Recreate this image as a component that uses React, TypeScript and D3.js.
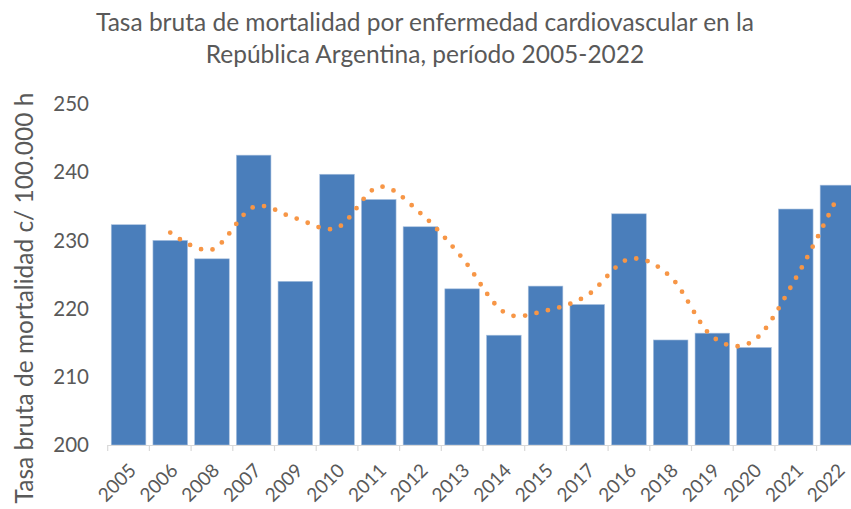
import React from "react";
import * as d3 from "d3";

const categories = ["2005","2006","2008","2007","2009","2010","2011","2012","2013","2014","2015","2017","2016","2018","2019","2020","2021","2022"];
const values = [232.3,230.0,227.3,242.5,224.0,239.7,236.0,232.0,222.9,216.1,223.3,220.6,233.9,215.4,216.4,214.3,234.6,238.1];
const yTicks = [200,210,220,230,240,250];
const titleLines = ["Tasa bruta de mortalidad por enfermedad cardiovascular en la","República Argentina, período 2005-2022"];
const yAxisTitle = "Tasa bruta de mortalidad c/ 100.000 h";

const W = 851, H = 509;
const FONT = "Lato, 'Open Sans', sans-serif";
const TXT = "#595959";

export default function App() {
  const x = d3.scaleBand<string>().domain(categories).range([107.7, 107.7 + 18 * 41.7]).paddingInner(0.17).paddingOuter(0.085);
  const y = d3.scaleLinear().domain([200, 250]).range([445, 104]);
  const ma = values.map((v, i) => (i > 0 ? (v + values[i - 1]) / 2 : null));
  const pts = ma.map((v, i) => (v == null ? null : [x(categories[i])! + x.bandwidth() / 2, y(v)] as [number, number])).filter(Boolean) as [number, number][];
  const line = d3.line().curve(d3.curveCatmullRom.alpha(0))(pts) || "";
  const step = x.step();
  const x0 = x.range()[0];
  return (
    <svg width={W} height={H} style={{ position: "absolute", left: 0, top: 0, background: "#fff" }}>
      <g fontFamily={FONT} fill={TXT}>
        {titleLines.map((t, i) => (
          <text key={i} x={425} y={31 + i * 32} textAnchor="middle" fontSize={24.5}>{t}</text>
        ))}
        <text transform={`translate(33,298) rotate(-90)`} textAnchor="middle" fontSize={24.5}>{yAxisTitle}</text>
        {yTicks.map((t) => (
          <text key={t} x={89} y={y(t)} dy="0.35em" textAnchor="end" fontSize={20.5}>{t}</text>
        ))}
      </g>
      {categories.map((c, i) => (
        <rect key={c} x={x(c)} y={y(values[i])} width={x.bandwidth()} height={y(200) - y(values[i])} fill="#4A7EBB" stroke="#A9C1DF" strokeWidth={0.6} />
      ))}
      <line x1={x0} x2={W} y1={445.5} y2={445.5} stroke="#D9D9D9" strokeWidth={1.2} />
      {d3.range(categories.length + 1).map((i) => (
        <line key={i} x1={x0 + i * step} x2={x0 + i * step} y1={445} y2={451} stroke="#D9D9D9" strokeWidth={1.2} />
      ))}
      <path d={line} fill="none" stroke="#F79646" strokeWidth={4.8} strokeLinecap="round" strokeDasharray="0 11.7" />
      <g fontFamily={FONT} fill={TXT} fontSize={19}>
        {categories.map((c) => (
          <text key={c} transform={`translate(${x(c)! + x.bandwidth() / 2 + 4},${467}) rotate(-45)`} textAnchor="end" dy="0.35em">{c}</text>
        ))}
      </g>
    </svg>
  );
}
